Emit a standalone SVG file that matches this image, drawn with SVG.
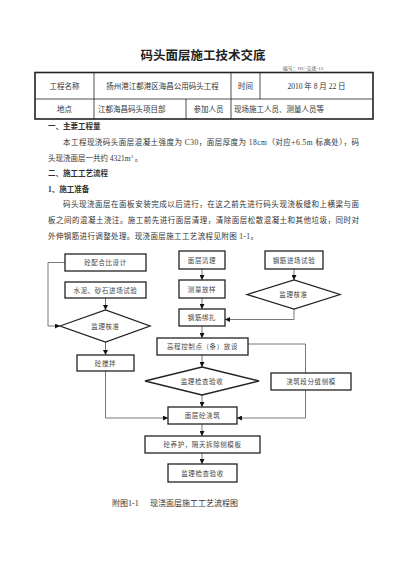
<svg xmlns="http://www.w3.org/2000/svg" width="400" height="566" viewBox="0 0 400 566">
<style>
text{font-family:"Liberation Serif","Noto Sans CJK SC",serif;fill:#333}
.t{font-size:12.5px;font-weight:bold;text-anchor:middle;fill:#222}
.tb{font-size:7.5px;text-anchor:middle;dominant-baseline:central}
.tl{font-size:7.5px;dominant-baseline:central}
.b{font-size:7.5px}
.h{font-size:7.5px;font-weight:bold}
.n{font-size:6.5px;text-anchor:middle;dominant-baseline:central;letter-spacing:0.6px;fill:#444}
.box{fill:#fff;stroke:#222;stroke-width:1.3}
.tab{fill:none;stroke:#222;stroke-width:0.8}
.c{fill:none;stroke:#555;stroke-width:0.8}
</style>
<defs>
<marker id="a" viewBox="0 0 6 6" refX="6" refY="3" markerWidth="5" markerHeight="5" orient="auto" markerUnits="userSpaceOnUse">
<path d="M0,0L6,3L0,6Z" fill="#111"/>
</marker>
</defs>
<rect width="400" height="566" fill="#fff"/>
<text class="t" x="203" y="60">码头面层施工技术交底</text>
<text x="303" y="70" style="font-size:5px;text-anchor:middle;fill:#555">编号：HC-交底-13</text>

<g id="table">
<rect x="35" y="72.5" width="338" height="46.5" fill="none" stroke="#222" stroke-width="1.6"/>
<line class="tab" x1="35" y1="99" x2="373" y2="99"/>
<line class="tab" x1="94" y1="72.5" x2="94" y2="119"/>
<line class="tab" x1="231" y1="72.5" x2="231" y2="119"/>
<line class="tab" x1="260" y1="72.5" x2="260" y2="99"/>
<line class="tab" x1="186" y1="99" x2="186" y2="119"/>
<text class="tb" x="64.5" y="86">工程名称</text>
<text class="tb" x="162.5" y="86">扬州港江都港区海昌公用码头工程</text>
<text class="tb" x="245.5" y="86">时间</text>
<text class="tb" x="316.5" y="86">2010 年 8 月 22 日</text>
<text class="tb" x="64.5" y="109">地点</text>
<text class="tl" x="98" y="109">江都海昌码头项目部</text>
<text class="tb" x="208.5" y="109">参加人员</text>
<text class="tl" x="234" y="109">现场施工人员、测量人员等</text>
</g>

<g id="body">
<text class="h" x="48" y="129">一、主要工程量</text>
<text class="b" x="63" y="145" textLength="296" lengthAdjust="spacing">本工程现浇码头面层混凝土强度为 C30，面层厚度为 18cm（对应+6.5m 标高处），码</text>
<text class="b" x="48" y="161">头现浇面层一共约 4321m<tspan dy="-3" style="font-size:4.5px">3</tspan><tspan dy="3"> 。</tspan></text>
<text class="h" x="48" y="176">二、施工工艺流程</text>
<text class="h" x="48" y="192">1、施工准备</text>
<text class="b" x="63" y="207" textLength="296" lengthAdjust="spacing">码头现浇面层在面板安装完成以后进行，在这之前先进行码头现浇板缝和上横梁与面</text>
<text class="b" x="48" y="223" textLength="311" lengthAdjust="spacing">板之间的混凝土浇注。施工前先进行面层清理，清除面层松散混凝土和其他垃圾，同时对</text>
<text class="b" x="48" y="239" textLength="210" lengthAdjust="spacing">外伸钢筋进行调整处理。现浇面层施工工艺流程见附图 1-1。</text>
</g>

<g id="connectors">
<polyline class="c" points="65,262.5 48,262.5 48,326 60,326" marker-end="url(#a)"/>
<line class="c" x1="105.5" y1="298" x2="105.5" y2="310" marker-end="url(#a)"/>
<line class="c" x1="105.5" y1="342" x2="105.5" y2="355" marker-end="url(#a)"/>
<polyline class="c" points="105.5,371 105.5,418 168,418" marker-end="url(#a)"/>
<line class="c" x1="202" y1="269" x2="202" y2="280" marker-end="url(#a)"/>
<line class="c" x1="202" y1="298" x2="202" y2="309" marker-end="url(#a)"/>
<line class="c" x1="202" y1="326" x2="202" y2="338" marker-end="url(#a)"/>
<line class="c" x1="202" y1="355" x2="202" y2="367" marker-end="url(#a)"/>
<line class="c" x1="202" y1="395" x2="202" y2="407" marker-end="url(#a)"/>
<line class="c" x1="202" y1="424" x2="202" y2="436" marker-end="url(#a)"/>
<line class="c" x1="202" y1="453" x2="202" y2="464" marker-end="url(#a)"/>
<line class="c" x1="294" y1="269" x2="294" y2="280" marker-end="url(#a)"/>
<polyline class="c" points="294,309 294,319.5 225,319.5" marker-end="url(#a)"/>
<polyline class="c" points="248,344 305.5,344 305.5,373"/>
<polyline class="c" points="305.5,390 305.5,418 237,418" marker-end="url(#a)"/>
</g>

<g id="n1"><rect class="box" x="65" y="254" width="81" height="17"/><text class="n" x="105.5" y="262.5">砼配合比设计</text></g>
<g id="n2"><rect class="box" x="65" y="282" width="81" height="16"/><text class="n" x="105.5" y="290">水泥、砂石进场试验</text></g>
<g id="n3"><polygon class="box" points="60,326 105.5,310 150,326 105.5,342"/><text class="n" x="105.5" y="326">监理核准</text></g>
<g id="n4"><rect class="box" x="77" y="355" width="57" height="16"/><text class="n" x="105.5" y="363">砼搅拌</text></g>
<g id="n5"><rect class="box" x="179" y="251" width="46" height="18"/><text class="n" x="202" y="260">面层清理</text></g>
<g id="n6"><rect class="box" x="179" y="280" width="46" height="18"/><text class="n" x="202" y="289">测量放样</text></g>
<g id="n7"><rect class="box" x="179" y="309" width="46" height="17"/><text class="n" x="202" y="317.5">钢筋绑扎</text></g>
<g id="n8"><rect class="box" x="157" y="338" width="91" height="17"/><text class="n" x="202.5" y="346.5">高程控制点（条）放设</text></g>
<g id="n9"><polygon class="box" points="145,381 202,367 259,381 202,395"/><text class="n" x="202" y="381">监理检查验收</text></g>
<g id="n10"><rect class="box" x="168" y="407" width="69" height="17"/><text class="n" x="202.5" y="415.5">面层砼浇筑</text></g>
<g id="n11"><rect class="box" x="145" y="436" width="115" height="17"/><text class="n" x="202.5" y="444.5">砼养护，隔天拆除侧模板</text></g>
<g id="n12"><rect class="box" x="168" y="464" width="69" height="18"/><text class="n" x="202.5" y="473">监理检查验收</text></g>
<g id="n13"><rect class="box" x="265" y="251" width="58" height="18"/><text class="n" x="294" y="260">钢筋进场试验</text></g>
<g id="n14"><polygon class="box" points="247,294.5 294,280 340,294.5 294,309"/><text class="n" x="293.5" y="294.5">监理核准</text></g>
<g id="n15"><rect class="box" x="271" y="373" width="80" height="17"/><text class="n" x="311" y="381.5">浇筑段分缝侧模</text></g>

<text x="112" y="506" style="font-size:8px">附图1-1</text>
<text x="150" y="506" style="font-size:8px">现浇面层施工工艺流程图</text>
</svg>
